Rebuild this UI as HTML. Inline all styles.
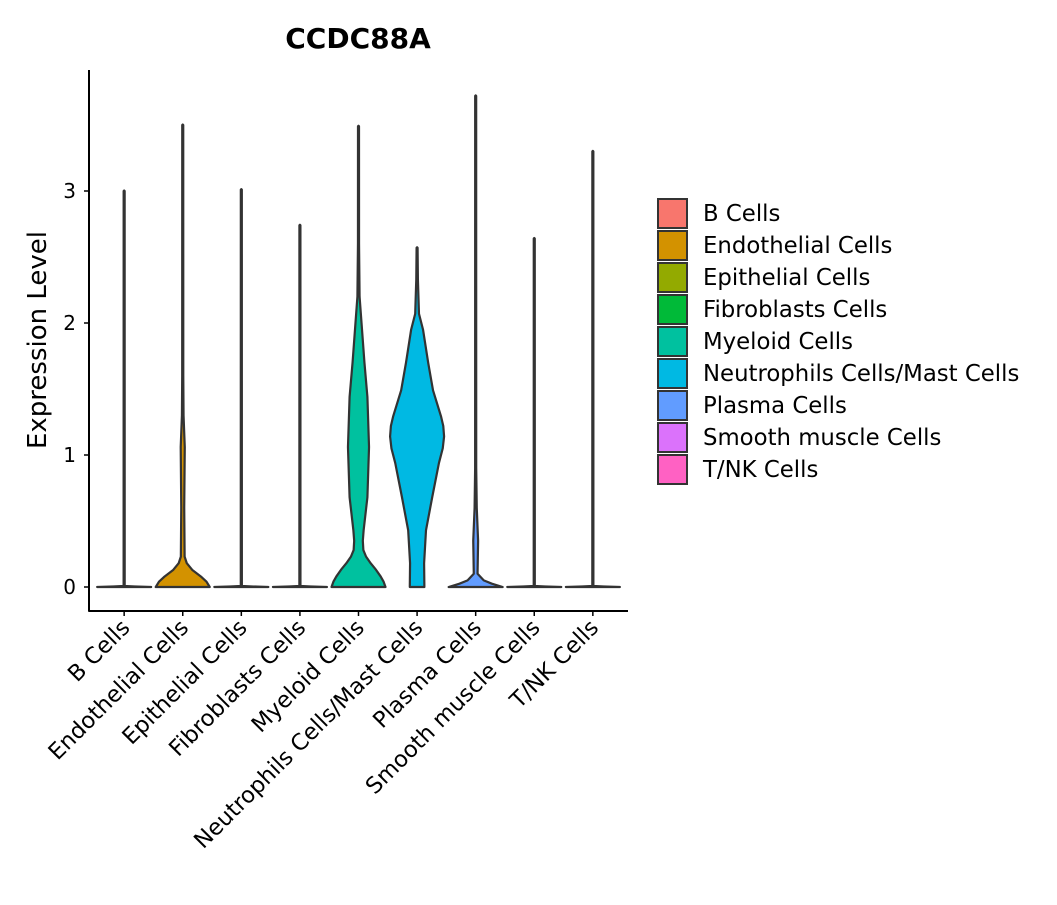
<!DOCTYPE html>
<html><head><meta charset="utf-8"><style>
body{margin:0;background:#fff;}
svg text{font-family:"DejaVu Sans","Liberation Sans",sans-serif;fill:#000;}
</style></head><body>
<svg id="chart" width="1057" height="900" xmlns="http://www.w3.org/2000/svg">
<text x="358" y="48" font-size="28" font-weight="bold" text-anchor="middle">CCDC88A</text>
<text transform="translate(46,340) rotate(-90)" font-size="26" text-anchor="middle">Expression Level</text>
<g id="plot"></g>
<g id="legend"></g>
</svg>
<script>
const categories=["B Cells","Endothelial Cells","Epithelial Cells","Fibroblasts Cells","Myeloid Cells","Neutrophils Cells/Mast Cells","Plasma Cells","Smooth muscle Cells","T/NK Cells"];
const colors=["#F8766D","#D39200","#93AA00","#00BA38","#00C19F","#00B9E3","#619CFF","#DB72FB","#FF61C3"];
const maxValues=[3.0,3.5,3.01,2.74,3.49,2.57,3.72,2.64,3.3];
// density profiles: [value, relative half-width (1 = max width)]
const profB=[[0,1],[0.004,0.4],[0.008,0.02]];
const profEndo=[[0,1],[0.04,0.88],[0.08,0.67],[0.13,0.35],[0.18,0.15],[0.23,0.07],[0.6,0.055],[1.06,0.075],[1.3,0.03],[1.6,0.02]];
const profMyeloid=[[0,1],[0.04,0.93],[0.08,0.82],[0.13,0.65],[0.18,0.45],[0.23,0.28],[0.28,0.18],[0.35,0.16],[0.43,0.19],[0.68,0.33],[1.06,0.39],[1.44,0.33],[1.7,0.22],[1.95,0.13],[2.2,0.04],[2.6,0.02]];
const profNeutro=[[0,0.27],[0.18,0.26],[0.43,0.33],[0.68,0.56],[0.94,0.81],[1.05,0.95],[1.14,1.0],[1.22,0.97],[1.29,0.89],[1.49,0.59],[1.7,0.41],[1.95,0.22],[2.07,0.07],[2.33,0.03]];
const profPlasma=[[0,1],[0.025,0.6],[0.05,0.3],[0.1,0.07],[0.35,0.09],[0.6,0.04],[0.9,0.02]];
const profiles=[profB,profEndo,profB,profB,profMyeloid,profNeutro,profPlasma,profB,profB];
const yTicks=[0,1,2,3];

const NS="http://www.w3.org/2000/svg";
const X0=89,X1=628,Y0=611,Ytop=70;
const step=(X1-X0)/(categories.length-1+1.2);
const xScale=i=>X0+(0.6+i)*step;
const yScale=v=>587-v*132;
const W=27;
const plot=document.getElementById('plot');
function mk(tag,attrs,parent){const e=document.createElementNS(NS,tag);for(const k in attrs)e.setAttribute(k,attrs[k]);parent.appendChild(e);return e;}

categories.forEach((c,i)=>{
  const cx=xScale(i);
  const prof=profiles[i].slice();
  prof.push([maxValues[i],0.018]);
  const pts=prof.map(p=>[p[0],Math.max(p[1]*W,0.5)]);
  const right=pts.map(p=>[cx+p[1],yScale(p[0])]);
  const left=pts.map(p=>[cx-p[1],yScale(p[0])]).reverse();
  let d="M"+left[left.length-1][0]+","+left[left.length-1][1];
  right.forEach(p=>d+=" L"+p[0]+","+p[1]);
  d+=" L"+cx+","+(yScale(maxValues[i])-0.5);
  left.forEach(p=>d+=" L"+p[0]+","+p[1]);
  d+=" Z";
  const v=mk('path',{d:d,fill:colors[i],stroke:"#333","stroke-width":2.2,"stroke-linejoin":"round"},plot);
  
  
  const t=mk('text',{transform:`translate(${cx+7},${629}) rotate(-45)`,"font-size":22.5,"text-anchor":"end"},plot);
  t.textContent=c;
  
  
  const tk=mk('line',{x1:cx,x2:cx,y1:Y0,y2:Y0+5,stroke:"#000","stroke-width":1.5},plot);
  
  
});
yTicks.forEach(v=>{
  const y=yScale(v);
  const l=mk('line',{x1:X0-5,x2:X0,y1:y,y2:y,stroke:"#000","stroke-width":1.5},plot);
  
  
  const t=mk('text',{x:X0-13,y:y+7,"font-size":20,"text-anchor":"end"},plot);
  t.textContent=v;
  
  
});
const ya=mk('line',{x1:X0,x2:X0,y1:Ytop,y2:Y0+0.7,stroke:"#000","stroke-width":2},plot);


const xa=mk('line',{x1:X0,x2:X1,y1:Y0,y2:Y0,stroke:"#000","stroke-width":2},plot);



const leg=document.getElementById('legend');
categories.forEach((c,i)=>{
  const y=199+i*32;
  const r=mk('rect',{x:658,y:y,width:29,height:29,fill:colors[i],stroke:"#333","stroke-width":2},leg);
  
  
  const t=mk('text',{x:703,y:y+22,"font-size":22.8},leg);
  t.textContent=c;
  
  
});
</script>
</body></html>
